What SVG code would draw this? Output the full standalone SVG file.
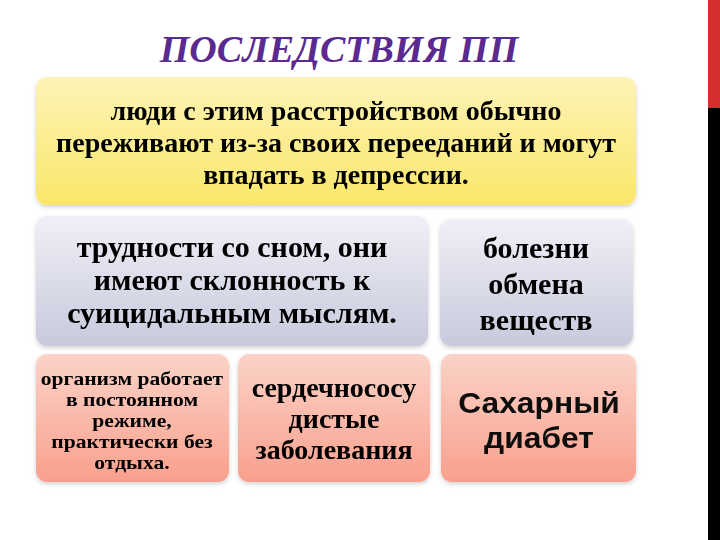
<svg xmlns="http://www.w3.org/2000/svg" width="720" height="540" viewBox="0 0 720 540">
<defs>
<linearGradient id="gy" x1="0" y1="0" x2="0" y2="1"><stop offset="0" stop-color="#fdf3b8"/><stop offset="1" stop-color="#fae76a"/></linearGradient>
<linearGradient id="gl" x1="0" y1="0" x2="0" y2="1"><stop offset="0" stop-color="#f0f0f7"/><stop offset="1" stop-color="#c8c9dc"/></linearGradient>
<linearGradient id="gs" x1="0" y1="0" x2="0" y2="1"><stop offset="0" stop-color="#fbd3c8"/><stop offset="1" stop-color="#f9a08d"/></linearGradient>
<filter id="sh" x="-10%" y="-10%" width="120%" height="130%"><feDropShadow dx="0" dy="2" stdDeviation="2" flood-color="#000" flood-opacity="0.18"/></filter>
<style>
.t{font-family:"Liberation Serif","Times New Roman",serif;text-anchor:middle;fill:#000;font-weight:bold}
.s{font-family:"Liberation Sans",Arial,sans-serif;text-anchor:middle;font-weight:bold;fill:#111}
</style>
</defs>
<rect x="0" y="0" width="720" height="540" fill="#fff"/>
<rect x="708" y="0" width="12" height="108" fill="#d42e2e"/>
<rect x="708" y="108" width="12" height="432" fill="#000"/>
<text id="title" x="339" y="62" font-family="Liberation Serif,serif" font-style="italic" font-weight="bold" font-size="38" fill="#5b2a90" text-anchor="middle">ПОСЛЕДСТВИЯ ПП</text>
<g id="n1" filter="url(#sh)"><rect x="36" y="77" width="600" height="128" rx="11" fill="url(#gy)"/>
<text class="t" font-size="28"><tspan x="336" y="120">люди с этим расстройством обычно</tspan><tspan x="336" y="152">переживают из-за своих перееданий и могут</tspan><tspan x="336" y="184">впадать в депрессии.</tspan></text></g>
<g id="n2" filter="url(#sh)"><rect x="36" y="216" width="392" height="130" rx="11" fill="url(#gl)"/>
<text class="t" font-size="30"><tspan x="232" y="257">трудности со сном, они</tspan><tspan x="232" y="290">имеют склонность к</tspan><tspan x="232" y="323">суицидальным мыслям.</tspan></text></g>
<g id="n3" filter="url(#sh)"><rect x="440" y="219" width="193" height="127" rx="11" fill="url(#gl)"/>
<text class="t" font-size="30"><tspan x="536" y="258">болезни</tspan><tspan x="536" y="294">обмена</tspan><tspan x="536" y="330">веществ</tspan></text></g>
<g id="n4" filter="url(#sh)"><rect x="36" y="354" width="193" height="128" rx="11" fill="url(#gs)"/>
<text class="t" font-size="18" transform="translate(132,0) scale(1.2,1)"><tspan x="0" y="385">организм работает</tspan><tspan x="0" y="406">в постоянном</tspan><tspan x="0" y="427">режиме,</tspan><tspan x="0" y="448">практически без</tspan><tspan x="0" y="469">отдыха.</tspan></text></g>
<g id="n5" filter="url(#sh)"><rect x="238" y="354" width="192" height="128" rx="11" fill="url(#gs)"/>
<text class="t" font-size="28"><tspan x="334" y="397">сердечнососу</tspan><tspan x="334" y="428">дистые</tspan><tspan x="334" y="459">заболевания</tspan></text></g>
<g id="n6" filter="url(#sh)"><rect x="441" y="354" width="195" height="128" rx="11" fill="url(#gs)"/>
<text class="s" font-size="30" transform="translate(539,0) scale(1.06,1)"><tspan x="0" y="413">Сахарный</tspan><tspan x="0" y="448">диабет</tspan></text></g>
<g id="connectors"/>
</svg>
